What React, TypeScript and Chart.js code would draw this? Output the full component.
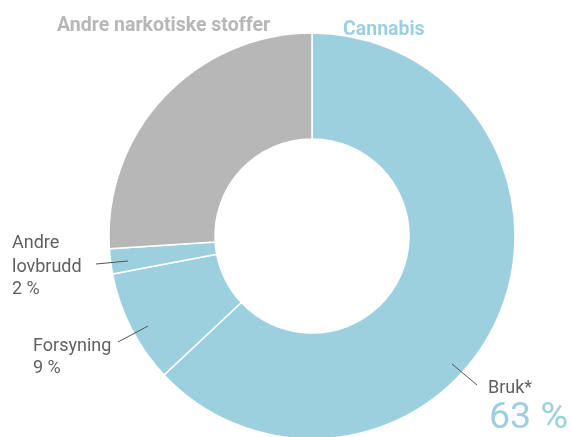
import React, { useEffect, useRef } from "react";
import { Chart, registerables } from "chart.js";

Chart.register(...registerables);

const categories = ["Bruk*", "Forsyning", "Andre lovbrudd", "Andre narkotiske stoffer"];
const shares = [63, 9, 2, 26];
const sliceColors = ["#9dd0df", "#9dd0df", "#9dd0df", "#b7b7b7"];
const groupTitles = ["Andre narkotiske stoffer", "Cannabis"];

const FONT = "Roboto, 'Liberation Sans', sans-serif";

const labelPlugin = {
  id: "customLabels",
  afterDraw(chart: any) {
    const ctx = chart.ctx;
    const arc = chart.getDatasetMeta(0).data[0];
    const cx = arc.x;
    const cy = arc.y;
    ctx.save();
    // Group titles
    ctx.textBaseline = "alphabetic";
    ctx.textAlign = "left";
    ctx.font = `bold 19.5px ${FONT}`;
    ctx.fillStyle = "#b7b7b7";
    ctx.fillText(groupTitles[0], cx - 255, cy - 205);
    ctx.fillStyle = "#9dd0df";
    ctx.fillText(groupTitles[1], cx + 31, cy - 201);

    // leader lines
    ctx.strokeStyle = "#555555";
    ctx.lineWidth = 1;
    const line = (x1: number, y1: number, x2: number, y2: number) => {
      ctx.beginPath();
      ctx.moveTo(cx + x1, cy + y1);
      ctx.lineTo(cx + x2, cy + y2);
      ctx.stroke();
    };
    line(-216, 28, -184, 25);
    line(-194, 106, -164, 90);
    line(140, 128, 165, 149);

    ctx.fillStyle = "#606060";
    ctx.font = `18px ${FONT}`;
    ctx.textBaseline = "middle";
    // Andre lovbrudd
    ctx.fillText("Andre", cx - 300, cy + 7);
    ctx.fillText("lovbrudd", cx - 300, cy + 31);
    ctx.fillText(`${shares[2]} %`, cx - 300, cy + 53);
    // Forsyning
    ctx.fillText("Forsyning", cx - 279, cy + 110);
    ctx.fillText(`${shares[1]} %`, cx - 279, cy + 132);
    // Bruk
    ctx.fillText(categories[0], cx + 176, cy + 152);
    ctx.fillStyle = "#9dd0df";
    ctx.font = `37.5px ${FONT}`;
    ctx.textBaseline = "alphabetic";
    ctx.fillText(`${shares[0]} %`, cx + 177, cy + 192);
    ctx.restore();
  },
};

export default function App() {
  const ref = useRef<HTMLCanvasElement>(null);
  useEffect(() => {
    if (!ref.current) return;
    const chart = new Chart(ref.current, {
      type: "doughnut",
      data: {
        labels: categories,
        datasets: [
          {
            data: shares,
            backgroundColor: sliceColors,
            borderColor: "#ffffff",
            borderWidth: 1.5,
            radius: 203,
            cutout: "47.8%",
          } as any,
        ],
      },
      options: {
        responsive: false,
        animation: false,
        layout: { padding: { left: 109, right: 56, top: 35, bottom: 0 } },
        plugins: {
          legend: { display: false },
          tooltip: { enabled: false },
          title: { display: false },
        },
      },
      plugins: [labelPlugin],
    });
    return () => chart.destroy();
  }, []);
  return (
    <div style={{ position: "absolute", left: 0, top: 0, width: 571, height: 437, overflow: "hidden", background: "#fff" }}>
      <canvas ref={ref} width={571} height={437} style={{ display: "block" }} />
    </div>
  );
}
